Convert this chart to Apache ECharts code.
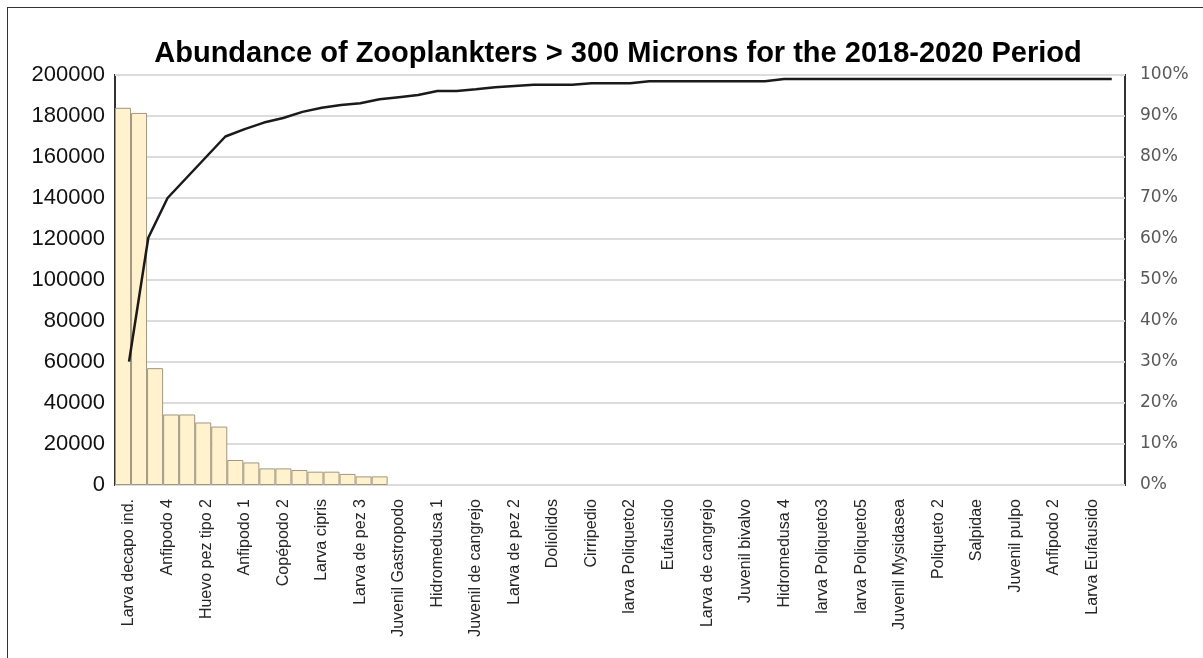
<!DOCTYPE html>
<html>
<head>
<meta charset="utf-8">
<script src="https://cdn.jsdelivr.net/npm/echarts@6/dist/echarts.min.js"></script>
<style>
  html, body { margin: 0; padding: 0; background: #fff; }
  #wrap { position: relative; width: 1203px; height: 658px; overflow: hidden; }
  #chart { position: absolute; left: 0; top: 0; width: 1203px; height: 658px; }
  #frame { position: absolute; left: 7px; top: 7px; width: 1300px; height: 700px;
           border-left: 1.5px solid #333; border-top: 1.5px solid #333; pointer-events: none; }
</style>
</head>
<body>
<div id="wrap">
  <div id="chart"></div>
  <div id="frame"></div>
</div>
<script>
// Visible category labels (every other category is labelled in the reference)
const shownLabels = [
  'Larva decapo ind.', 'Anfipodo 4', 'Huevo pez tipo 2', 'Anfipodo 1', 'Copépodo 2',
  'Larva cipris', 'Larva de pez 3', 'Juvenil Gastropodo', 'Hidromedusa 1',
  'Juvenil de cangrejo', 'Larva de pez 2', 'Doliolidos', 'Cirripedio', 'larva Poliqueto2',
  'Eufausido', 'Larva de cangrejo', 'Juvenil bivalvo', 'Hidromedusa 4', 'larva Poliqueto3',
  'larva Poliqueto5', 'Juvenil Mysidasea', 'Poliqueto 2', 'Salpidae', 'Juvenil pulpo',
  'Anfipodo 2', 'Larva Eufausido'
];
// Abundance per taxon (bars)
const abundance = [
  184000, 181500, 57000, 34400, 34400, 30500, 28500, 12200, 11000, 8100,
  8100, 7300, 6500, 6500, 5400, 4200, 4200, 0, 0, 0,
  0, 0, 0, 0, 0, 0, 0, 0, 0, 0,
  0, 0, 0, 0, 0, 0, 0, 0, 0, 0,
  0, 0, 0, 0, 0, 0, 0, 0, 0, 0,
  0, 0
];
// Cumulative percentage (line)
const cumulativePct = [
  30.1, 60.3, 70, 75, 80, 85, 86.8, 88.4, 89.5, 91,
  92, 92.7, 93.1, 94.1, 94.6, 95.1, 96.1, 96.1, 96.5, 97,
  97.3, 97.6, 97.6, 97.6, 98, 98, 98, 98.5, 98.5, 98.5,
  98.5, 98.5, 98.5, 98.5, 99, 99, 99, 99, 99, 99,
  99, 99, 99, 99, 99, 99, 99, 99, 99, 99,
  99, 99
];
const leftTicks = { min: 0, max: 200000, interval: 20000 };
const rightTicks = { min: 0, max: 100, interval: 10 };

// 52 categories: odd ones are unlabelled in the reference
const categories = [];
for (let i = 0; i < shownLabels.length; i++) {
  categories.push(shownLabels[i]);
  categories.push('');
}

const chart = echarts.init(document.getElementById('chart'), null, { renderer: 'canvas' });
const TOP = 75, BOTTOM = 173;
const option = {
  animation: false,
  backgroundColor: '#fff',
  title: {
    text: 'Abundance of Zooplankters > 300 Microns for the 2018-2020 Period',
    left: 613, top: 34, textAlign: 'center',
    textStyle: { fontFamily: 'Liberation Sans, Arial, sans-serif', fontWeight: 'bold', fontSize: 29, color: '#000' }
  },
  grid: [
    { left: 115, right: 78, top: TOP, bottom: BOTTOM, show: true, borderColor: '#333', borderWidth: 2, backgroundColor: 'transparent' },
    { left: 119.4, right: 81.6, top: TOP, bottom: BOTTOM },
    { left: 115, width: 834, top: TOP, bottom: BOTTOM }
  ],
  xAxis: [
    { gridIndex: 0, type: 'category', data: categories, show: false },
    { gridIndex: 1, type: 'category', data: categories, boundaryGap: true,
      axisLine: { show: false }, axisTick: { show: false },
      axisLabel: { interval: 0, rotate: 90, margin: 14, fontSize: 16,
                   fontFamily: 'Liberation Sans, Arial, sans-serif', color: '#262626' } },
    { gridIndex: 2, type: 'category', data: categories, show: false }
  ],
  yAxis: [
    { gridIndex: 0, type: 'value', min: leftTicks.min, max: leftTicks.max, interval: leftTicks.interval,
      axisLine: { show: false }, axisTick: { show: false },
      splitLine: { show: true, lineStyle: { color: '#dcdcdc', width: 2 } },
      axisLabel: { margin: 10, fontSize: 22, fontFamily: 'Liberation Sans, Arial, sans-serif', color: '#111',
                   formatter: v => String(v) } },
    { gridIndex: 0, type: 'value', position: 'right', min: rightTicks.min, max: rightTicks.max, interval: rightTicks.interval,
      axisLine: { show: false }, axisTick: { show: false }, splitLine: { show: false },
      axisLabel: { margin: 15, fontSize: 17, fontFamily: 'DejaVu Sans, sans-serif', color: '#595959',
                   formatter: v => v + '%' } },
    { gridIndex: 1, type: 'value', min: 0, max: 100, show: false },
    { gridIndex: 2, type: 'value', min: leftTicks.min, max: leftTicks.max, show: false }
  ],
  series: [
    { type: 'bar', xAxisIndex: 2, yAxisIndex: 3, barCategoryGap: '0%',
      data: abundance.map(v => (v === 0 ? '-' : v)),
      itemStyle: { color: '#fff2cc', borderColor: '#9e9784', borderWidth: 1 } },
    { type: 'line', xAxisIndex: 1, yAxisIndex: 2, data: cumulativePct, showSymbol: false, symbol: 'none',
      lineStyle: { color: '#1a1a1a', width: 2.5 }, z: 5 }
  ]
};
chart.setOption(option);
</script>
</body>
</html>
